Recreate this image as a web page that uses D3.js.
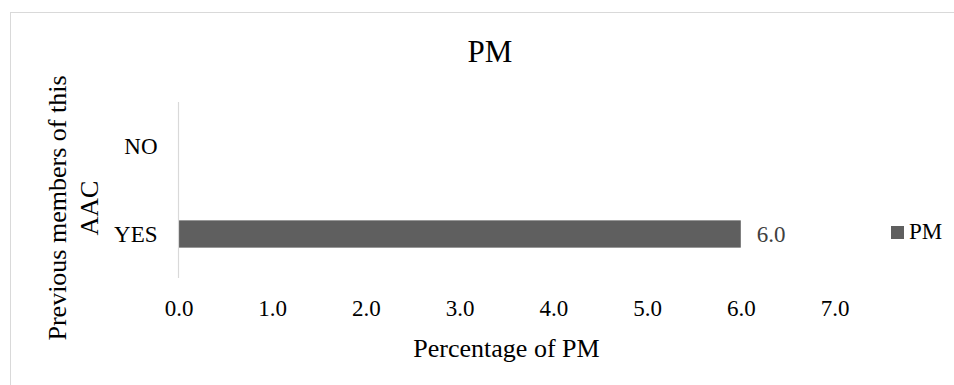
<!DOCTYPE html>
<html>
<head>
<meta charset="utf-8">
<script src="https://cdn.jsdelivr.net/npm/d3@7"></script>
<style>
  html, body { margin: 0; padding: 0; background: #fff; }
  svg { display: block; }
  text { font-family: "Liberation Serif", "Times New Roman", serif; }
</style>
</head>
<body>
<svg id="chart" width="954" height="385"></svg>
<script>
// Survey answers and the share of PM for each one (NO has no value)
const categories = ["NO", "YES"];
const pmValues = [null, 6.0];
const xTicks = [0, 1, 2, 3, 4, 5, 6, 7];
const seriesName = "PM";
const chartTitle = "PM";
const xTitle = "Percentage of PM";
const yTitleLines = ["Previous members of this", "AAC"];

const svg = d3.select("#chart");
const W = 954, H = 385;

// chart frame
svg.append("rect")
  .attr("x", 10.5).attr("y", 12.5)
  .attr("width", 960).attr("height", 400)
  .attr("fill", "#fff").attr("stroke", "#d9d9d9").attr("stroke-width", 1);

const plot = { left: 178.5, right: 834.5, top: 102, bottom: 278 };

const x = d3.scaleLinear().domain([0, 7]).range([plot.left, plot.right]);
// first category at the top, as in a horizontal bar chart
const y = d3.scaleBand()
  .domain(categories)
  .range([plot.top, plot.bottom])
  .paddingInner(0.69).paddingOuter(0.345);

// bars
const data = categories.map((c, i) => ({ cat: c, v: pmValues[i] }));
svg.append("g").selectAll("rect")
  .data(data.filter(d => d.v != null))
  .join("rect")
  .attr("x", x(0) + 0.5)
  .attr("y", d => y(d.cat))
  .attr("width", d => x(d.v) - x(0) - 0.5)
  .attr("height", y.bandwidth())
  .attr("fill", "#5f5f5f");

// data labels
svg.append("g").selectAll("text")
  .data(data.filter(d => d.v != null))
  .join("text")
  .attr("x", d => x(d.v) + 16)
  .attr("y", d => y(d.cat) + y.bandwidth() / 2)
  .attr("dy", "0.35em")
  .attr("font-size", 23)
  .attr("fill", "#404040")
  .text(d => d3.format(".1f")(d.v));

// vertical category axis line
svg.append("line")
  .attr("x1", plot.left).attr("x2", plot.left)
  .attr("y1", plot.top).attr("y2", plot.bottom)
  .attr("stroke", "#d9d9d9").attr("stroke-width", 1.2);

// category labels
svg.append("g").selectAll("text")
  .data(categories)
  .join("text")
  .attr("x", plot.left - 21)
  .attr("y", d => y(d) + y.bandwidth() / 2)
  .attr("dy", "0.35em")
  .attr("text-anchor", "end")
  .attr("font-size", 23)
  .attr("fill", "#000")
  .text(d => d);

// value axis labels (no line, no ticks)
const xAxis = d3.axisBottom(x).tickValues(xTicks).tickFormat(d3.format(".1f")).tickSize(0).tickPadding(0);
const gx = svg.append("g").attr("transform", `translate(0,${plot.bottom})`).call(xAxis);
gx.select(".domain").remove();
gx.selectAll("text")
  .attr("y", 38)
  .attr("dy", 0)
  .attr("font-size", 23)
  .attr("font-family", "'Liberation Serif', 'Times New Roman', serif")
  .attr("fill", "#000");

// title
svg.append("text")
  .attr("x", 490).attr("y", 62)
  .attr("text-anchor", "middle")
  .attr("font-size", 31)
  .attr("fill", "#000")
  .text(chartTitle);

// x axis title
svg.append("text")
  .attr("x", (plot.left + plot.right) / 2).attr("y", 357)
  .attr("text-anchor", "middle")
  .attr("font-size", 26)
  .attr("fill", "#000")
  .text(xTitle);

// y axis title, two lines
const yt = svg.append("text")
  .attr("transform", "translate(57,208) rotate(-90)")
  .attr("text-anchor", "middle")
  .attr("font-size", 26)
  .attr("fill", "#000");
yTitleLines.forEach((t, i) => {
  yt.append("tspan").attr("x", 0).attr("y", i * 32).attr("dy", "0.35em").text(t);
});

// legend
const lg = svg.append("g").attr("transform", "translate(891,226)");
lg.append("rect").attr("width", 13).attr("height", 13).attr("fill", "#5f5f5f");
lg.append("text").attr("x", 18).attr("y", 13)
  .attr("font-size", 23).attr("fill", "#000").text(seriesName);
</script>
</body>
</html>
